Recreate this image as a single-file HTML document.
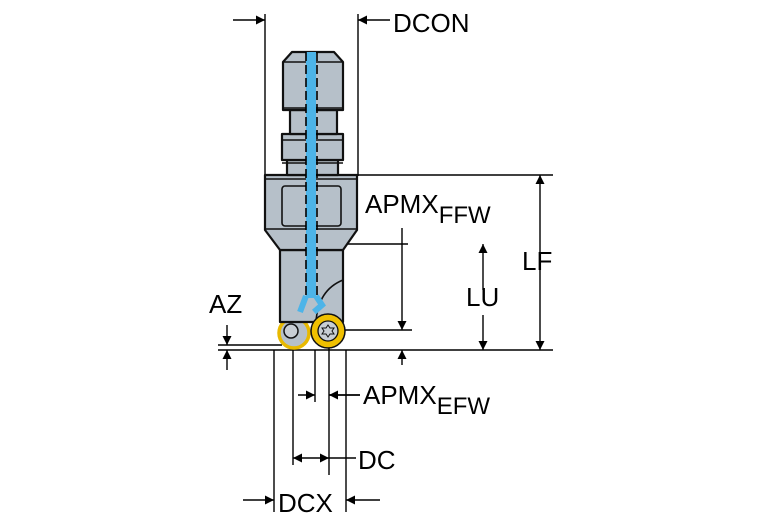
<!DOCTYPE html>
<html><head><style>body{margin:0;background:#fff}svg{display:block}text{font-family:"Liberation Sans",Arial,sans-serif;fill:#000}</style></head><body>
<svg width="767" height="523" viewBox="0 0 767 523" xmlns="http://www.w3.org/2000/svg">
<defs><marker id="a" viewBox="0 0 10 10" refX="10" refY="5" markerWidth="12" markerHeight="9" orient="auto-start-reverse" markerUnits="userSpaceOnUse"><path d="M0,0L10,5L0,10z" fill="#000"/></marker></defs>
<g stroke="#000" stroke-width="1.4" fill="none">
<line x1="265" y1="14" x2="265" y2="176"/><line x1="358" y1="14" x2="358" y2="176"/>
<line x1="357" y1="175" x2="553" y2="175"/>
<line x1="343" y1="244" x2="408" y2="244"/>
<line x1="218" y1="350" x2="553" y2="350"/>
<line x1="218" y1="345" x2="282" y2="345"/>
<line x1="343" y1="330" x2="412" y2="330"/>
<line x1="274" y1="350" x2="274" y2="512"/>
<line x1="293" y1="350" x2="293" y2="465"/>
<line x1="315" y1="350" x2="315" y2="402"/>
<line x1="329" y1="340" x2="329" y2="475"/>
<line x1="346" y1="350" x2="346" y2="512"/>
</g>
<g stroke="#000" stroke-width="1.4" fill="none" marker-end="url(#a)">
<line x1="233" y1="20" x2="265" y2="20"/><line x1="390" y1="20" x2="358" y2="20"/>
<line x1="540" y1="262" x2="540" y2="175" /><line x1="540" y1="262" x2="540" y2="350"/>
<line x1="483" y1="290" x2="483" y2="244"/><line x1="483" y1="315" x2="483" y2="350"/>
<line x1="402" y1="228" x2="402" y2="330"/><line x1="402" y1="365" x2="402" y2="350"/>
<line x1="227" y1="325" x2="227" y2="345"/><line x1="227" y1="370" x2="227" y2="350"/>
<line x1="360" y1="395" x2="329" y2="395"/><line x1="298" y1="395" x2="315" y2="395"/>
<line x1="311" y1="458" x2="293" y2="458"/><line x1="311" y1="458" x2="329" y2="458"/>
<line x1="243" y1="500" x2="274" y2="500"/><line x1="380" y1="500" x2="346" y2="500"/>
</g>
<line x1="329" y1="458" x2="356" y2="458" stroke="#000" stroke-width="1.4"/>
<line x1="329" y1="395" x2="360" y2="395" stroke="#000" stroke-width="1.4"/>
<circle cx="294" cy="333" r="15" fill="#b6c0c9" stroke="#e8b900" stroke-width="3.5"/>
<g stroke="#111" stroke-width="2.2" fill="#b6c0c9" stroke-linejoin="round">
<path d="M280,250 L343,250 L343,322 L280,322 Z"/>
<path d="M265,175 L357,175 L357,230 L343,250 L280,250 L265,230 Z"/>
<path d="M287,160 L338,160 L338,175 L287,175 Z"/>
<path d="M282,134 L343,134 L343,160 L282,160 Z"/>
<path d="M290,110 L337,110 L337,134 L290,134 Z"/>
<path d="M292,52 L334,52 L343,62 L343,110 L283,110 L283,62 Z"/>
</g>
<g stroke="#111" stroke-width="1.6" fill="none">
<line x1="283" y1="62" x2="343" y2="62"/><line x1="283" y1="108" x2="343" y2="108"/>
<line x1="282" y1="140" x2="343" y2="140"/><line x1="282" y1="163" x2="343" y2="163"/>
<line x1="265" y1="179" x2="357" y2="179"/><line x1="265" y1="229" x2="357" y2="229"/>
<rect x="282" y="186" width="59" height="40" rx="3"/>
<path d="M316,322 Q318,290 343,280"/>
</g>
<rect x="306" y="52" width="10" height="246" fill="#4db4e8"/>
<path d="M306,296 L300,312 M316,296 L322,305 L314,312" stroke="#4db4e8" stroke-width="6" fill="none"/>
<g stroke="#000" stroke-width="1.6" stroke-dasharray="9,4">
<line x1="306" y1="52" x2="306" y2="298"/><line x1="317" y1="52" x2="317" y2="298"/>
</g>
<circle cx="291" cy="331" r="7" fill="#c8ced4" stroke="#111" stroke-width="1.5"/>
<circle cx="328" cy="331" r="17" fill="#f0c000" stroke="#111" stroke-width="1.5"/>
<circle cx="328" cy="331" r="10" fill="#c8ced4" stroke="#111" stroke-width="1.3"/>
<path d="M328,325 l2,3 4,0 -2,3 2,3 -4,0 -2,3 -2,-3 -4,0 2,-3 -2,-3 4,0z" fill="none" stroke="#111" stroke-width="1"/>
<g font-size="26">
<text x="393" y="32">DCON</text>
<text x="365" y="213">APMX<tspan font-size="24" dy="10">FFW</tspan></text>
<text x="522" y="270">LF</text>
<text x="466" y="306">LU</text>
<text x="209" y="313">AZ</text>
<text x="363" y="404">APMX<tspan font-size="24" dy="10">EFW</tspan></text>
<text x="358" y="469">DC</text>
<text x="278" y="512">DCX</text>
</g>
</svg>
</body></html>
